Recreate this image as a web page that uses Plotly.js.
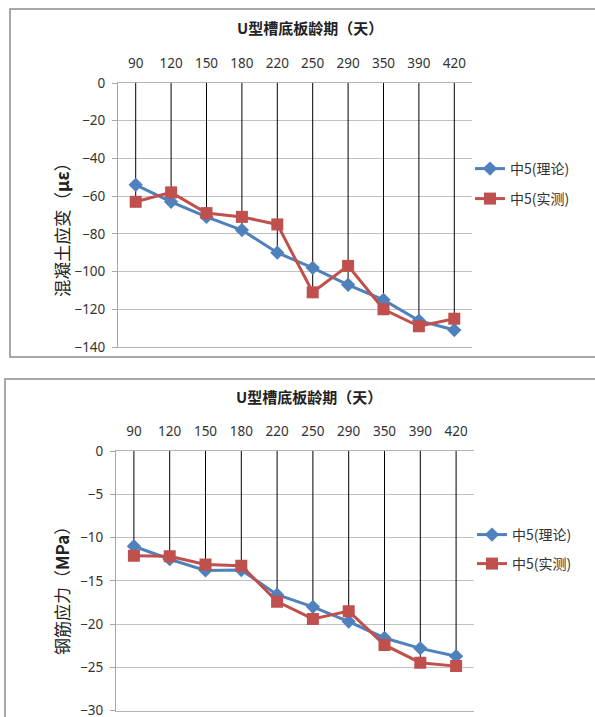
<!DOCTYPE html>
<html>
<head>
<meta charset="utf-8">
<script src="https://cdn.plot.ly/plotly-3.0.1.min.js"></script>
<style>html,body{margin:0;padding:0;background:#fff;}#chart{width:595px;height:717px;}</style>
</head>
<body>
<div id="chart"></div>
<script>
// ---- data ----
var ages = ['90','120','150','180','220','250','290','350','390','420'];
var strainTheory   = [-54, -63, -71, -78, -90, -98, -107, -115, -126, -131];
var strainMeasured = [-63, -58, -69, -71, -75, -111, -97, -120, -129, -125];
var stressTheory   = [-11.0, -12.5, -13.8, -13.75, -16.6, -18.0, -19.7, -21.6, -22.8, -23.7];
var stressMeasured = [-12.1, -12.15, -13.1, -13.25, -17.4, -19.4, -18.5, -22.4, -24.45, -24.85];
var nameTheory = '中5(理论)';
var nameMeasured = '中5(实测)';
var titleText = 'U型槽底板龄期（天）';
var yTitleTop = '混凝土应变（<b>με</b>）';
var yTitleBottom = '钢筋应力（<b>MPa</b>）';

var W = 595, H = 717;
function px(x){ return x / W; }
function py(y){ return 1 - y / H; }

var BLUE = '#4F81BD', RED = '#C0504D';
var numFont = {family: 'Noto Sans, Liberation Sans, sans-serif', size: 13.5, color: '#333333'};
var cjk = 'Noto Sans CJK SC, Noto Sans, sans-serif';

function dropLines(a, b){
  var xs = [], ys = [];
  for (var i = 0; i < ages.length; i++){
    xs.push(ages[i], ages[i], null);
    ys.push(0, Math.min(a[i], b[i]), null);
  }
  return {xs: xs, ys: ys};
}
var d1 = dropLines(strainTheory, strainMeasured);
var d2 = dropLines(stressTheory, stressMeasured);

var traces = [
  {x: d1.xs, y: d1.ys, xaxis: 'x', yaxis: 'y', mode: 'lines', line: {color: '#000', width: 1}, showlegend: false, hoverinfo: 'skip'},
  {x: ages, y: strainTheory, xaxis: 'x', yaxis: 'y', mode: 'lines+markers', name: nameTheory, legend: 'legend',
   line: {color: BLUE, width: 3}, marker: {symbol: 'diamond', size: 11, color: BLUE}},
  {x: ages, y: strainMeasured, xaxis: 'x', yaxis: 'y', mode: 'lines+markers', name: nameMeasured, legend: 'legend2',
   line: {color: RED, width: 3}, marker: {symbol: 'square', size: 12, color: RED}},
  {x: d2.xs, y: d2.ys, xaxis: 'x2', yaxis: 'y2', mode: 'lines', line: {color: '#000', width: 1}, showlegend: false, hoverinfo: 'skip'},
  {x: ages, y: stressTheory, xaxis: 'x2', yaxis: 'y2', mode: 'lines+markers', name: nameTheory, legend: 'legend3',
   line: {color: BLUE, width: 3}, marker: {symbol: 'diamond', size: 11, color: BLUE}},
  {x: ages, y: stressMeasured, xaxis: 'x2', yaxis: 'y2', mode: 'lines+markers', name: nameMeasured, legend: 'legend4',
   line: {color: RED, width: 3}, marker: {symbol: 'square', size: 12, color: RED}}
];

function xAxis(domain, anchor){
  return {domain: domain, anchor: anchor, side: 'top', type: 'category', range: [-0.5, 9.5],
    showgrid: false, zeroline: false, showline: true, mirror: true, linecolor: '#b4b4b4', linewidth: 1,
    ticks: '', tickfont: numFont, ticklabelstandoff: 9, ticklabeloverflow: 'allow', fixedrange: true};
}
function yAxis(domain, anchor, range, dtick){
  return {domain: domain, anchor: anchor, range: range, dtick: dtick, tick0: 0,
    showgrid: true, gridcolor: '#c0c0c0', gridwidth: 1, zeroline: false,
    showline: true, linecolor: '#a6a6a6', linewidth: 1,
    ticks: 'outside', ticklen: 5, tickcolor: '#a6a6a6', tickfont: numFont, ticklabelstandoff: 4,
    ticklabeloverflow: 'allow', fixedrange: true};
}
function legendAt(x, y){
  return {x: px(x), y: py(y), xanchor: 'left', yanchor: 'middle', bgcolor: 'rgba(0,0,0,0)', borderwidth: 0,
    font: {family: cjk, size: 14, color: '#333333'}, itemwidth: 30};
}
function ann(text, x, y, size, weight, angle){
  return {text: text, xref: 'paper', yref: 'paper', x: px(x), y: py(y), xanchor: 'center', yanchor: 'middle',
    showarrow: false, textangle: angle || 0, font: {family: cjk, size: size, color: '#222', weight: weight}};
}

var layout = {
  width: W, height: H, margin: {l: 0, r: 0, t: 0, b: 0},
  paper_bgcolor: '#fff', plot_bgcolor: '#fff',
  xaxis: xAxis([px(118), px(472)], 'y'),
  yaxis: yAxis([py(347), py(83)], 'x', [-140, 0], 20),
  xaxis2: xAxis([px(116), px(474)], 'y2'),
  yaxis2: yAxis([py(710.7), py(451)], 'x2', [-30, 0], 5),
  legend: legendAt(470, 169),
  legend2: legendAt(470, 199),
  legend3: legendAt(472, 535),
  legend4: legendAt(472, 564),
  annotations: [
    ann(titleText, 310, 27, 15, 'bold'),
    ann(titleText, 309, 396, 15, 'bold'),
    ann(yTitleTop, 61, 226, 17.5, 'normal', -90),
    ann(yTitleBottom, 61, 587, 17, 'normal', -90)
  ],
  shapes: [
    {type: 'rect', xref: 'paper', yref: 'paper', x0: px(10), x1: 1.05, y0: py(357), y1: py(9),
     line: {color: '#8c8c8c', width: 1.5}, fillcolor: 'rgba(0,0,0,0)', layer: 'below'},
    {type: 'rect', xref: 'paper', yref: 'paper', x0: px(5), x1: 1.05, y0: -0.05, y1: py(379),
     line: {color: '#8c8c8c', width: 1.5}, fillcolor: 'rgba(0,0,0,0)', layer: 'below'}
  ]
};

Plotly.newPlot('chart', traces, layout, {displayModeBar: false, staticPlot: true});
</script>
</body>
</html>
